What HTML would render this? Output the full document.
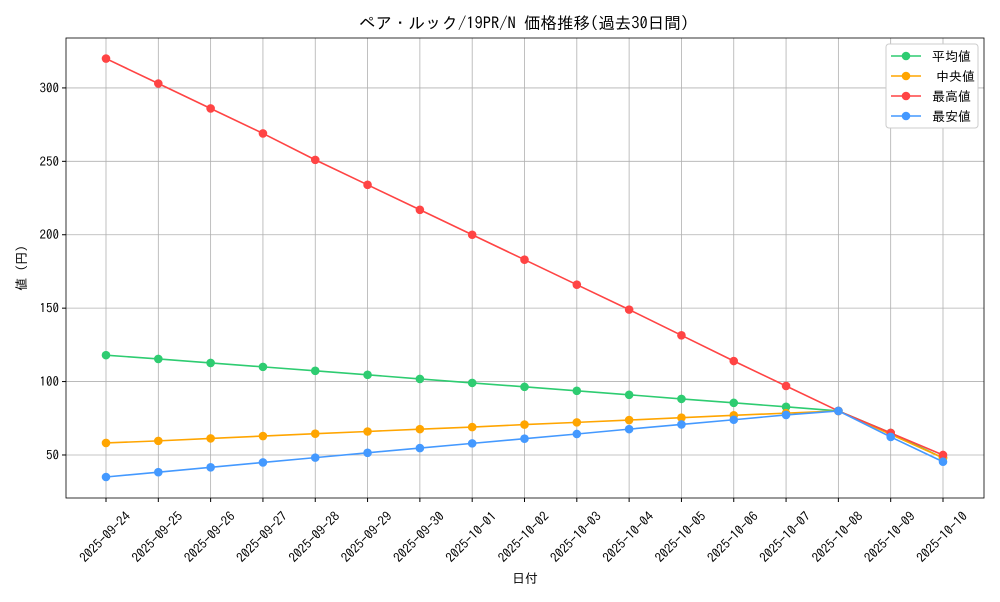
<!DOCTYPE html>
<html><head><meta charset="utf-8"><style>
body{margin:0;background:#fff;font-family:"IPAGothic","Noto Sans CJK JP",sans-serif;}
svg text{font-family:"IPAGothic","Noto Sans CJK JP",sans-serif;fill:#000;}
</style></head><body>
<svg id="chart" width="1000" height="600"></svg>
<script>
const categories=["2025-09-24","2025-09-25","2025-09-26","2025-09-27","2025-09-28","2025-09-29","2025-09-30","2025-10-01","2025-10-02","2025-10-03","2025-10-04","2025-10-05","2025-10-06","2025-10-07","2025-10-08","2025-10-09","2025-10-10"];
const avgValues=[118,115.4,112.7,110,107.3,104.6,101.8,99.1,96.4,93.7,91,88.2,85.5,82.8,80,65,48];
const medianValues=[58.2,59.6,61.3,62.9,64.5,66,67.6,69,70.7,72.2,73.8,75.4,77,78.5,80,64,48];
const maxValues=[320,303,286,269,251,234,217,200,183,166,149,131.5,114,97,80,65,50];
const minValues=[35,38.3,41.6,44.9,48.2,51.5,54.7,57.9,61.1,64.3,67.6,70.8,74,77.3,80,62.3,45.4];
const yTicks=[50,100,150,200,250,300];
const seriesNames=["平均値","中央値","最高値","最安値"];
const seriesColors=["#2ecc71","#ffa500","#ff4444","#4499ff"];

const svg=document.getElementById('chart');
const NS='http://www.w3.org/2000/svg';
const L=66,R=984,T=38,B=498;
const yMin=20.7,yMax=334;
const x=i=>106+i*(943-106)/(categories.length-1);
const y=v=>B-(v-yMin)/(yMax-yMin)*(B-T);
function mk(tag,attrs,parent){const e=document.createElementNS(NS,tag);for(const k in attrs)e.setAttribute(k,attrs[k]);(parent||svg).appendChild(e);return e;}

categories.forEach((c,i)=>{
  const g=mk('line',{x1:x(i),x2:x(i),y1:T,y2:B,stroke:'#b0b0b0','stroke-width':0.8});
  
  
});
yTicks.forEach(v=>{
  const g=mk('line',{x1:L,x2:R,y1:y(v),y2:y(v),stroke:'#b0b0b0','stroke-width':0.8});
  
  
});
const fr=mk('rect',{x:L,y:T,width:R-L,height:B-T,fill:'none',stroke:'#000','stroke-width':0.8});


yTicks.forEach(v=>{
  mk('line',{x1:L-4,x2:L,y1:y(v),y2:y(v),stroke:'#000'});
  const t=mk('text',{x:L-7,y:y(v)+4.5,'text-anchor':'end','font-size':13});
  t.textContent=v;
  
  
});
categories.forEach((c,i)=>{
  mk('line',{x1:x(i),x2:x(i),y1:B,y2:B+4,stroke:'#000'});
  const cx=x(i)-1, cy=B+39;
  const t=mk('text',{x:cx,y:cy+4.5,'text-anchor':'middle','font-size':13,transform:`rotate(-45 ${cx} ${cy})`});
  t.textContent=c;
  
  
});
[avgValues,medianValues,maxValues,minValues].forEach((vals,s)=>{
  const p=mk('polyline',{points:vals.map((v,i)=>x(i)+','+y(v)).join(' '),fill:'none',stroke:seriesColors[s],'stroke-width':1.6});
  
  
  vals.forEach((v,i)=>{
    const c=mk('circle',{cx:x(i),cy:y(v),r:4.3,fill:seriesColors[s]});
    
    
  });
});
const title=mk('text',{x:524,y:29,'text-anchor':'middle','font-size':16.5});
title.textContent='ペア・ルック/19PR/N 価格推移(過去30日間)';


const xt=mk('text',{x:525,y:583,'text-anchor':'middle','font-size':13});
xt.textContent='日付';


const yt=mk('text',{x:26,y:268,'text-anchor':'middle','font-size':13,transform:'rotate(-90 26 268)'});
yt.textContent='値 (円)';


const lg=mk('rect',{x:886,y:44,width:92,height:84,fill:'#fff',stroke:'#ccc',rx:3});


seriesNames.forEach((n,s)=>{
  const yy=56+s*20;
  mk('line',{x1:891,x2:921,y1:yy,y2:yy,stroke:seriesColors[s],'stroke-width':1.6});
  mk('circle',{cx:906,cy:yy,r:4.3,fill:seriesColors[s]});
  const t=mk('text',{x:s===1?936:932,y:yy+5,'font-size':13});
  t.textContent=n;
  
  
});
</script>
</body></html>
